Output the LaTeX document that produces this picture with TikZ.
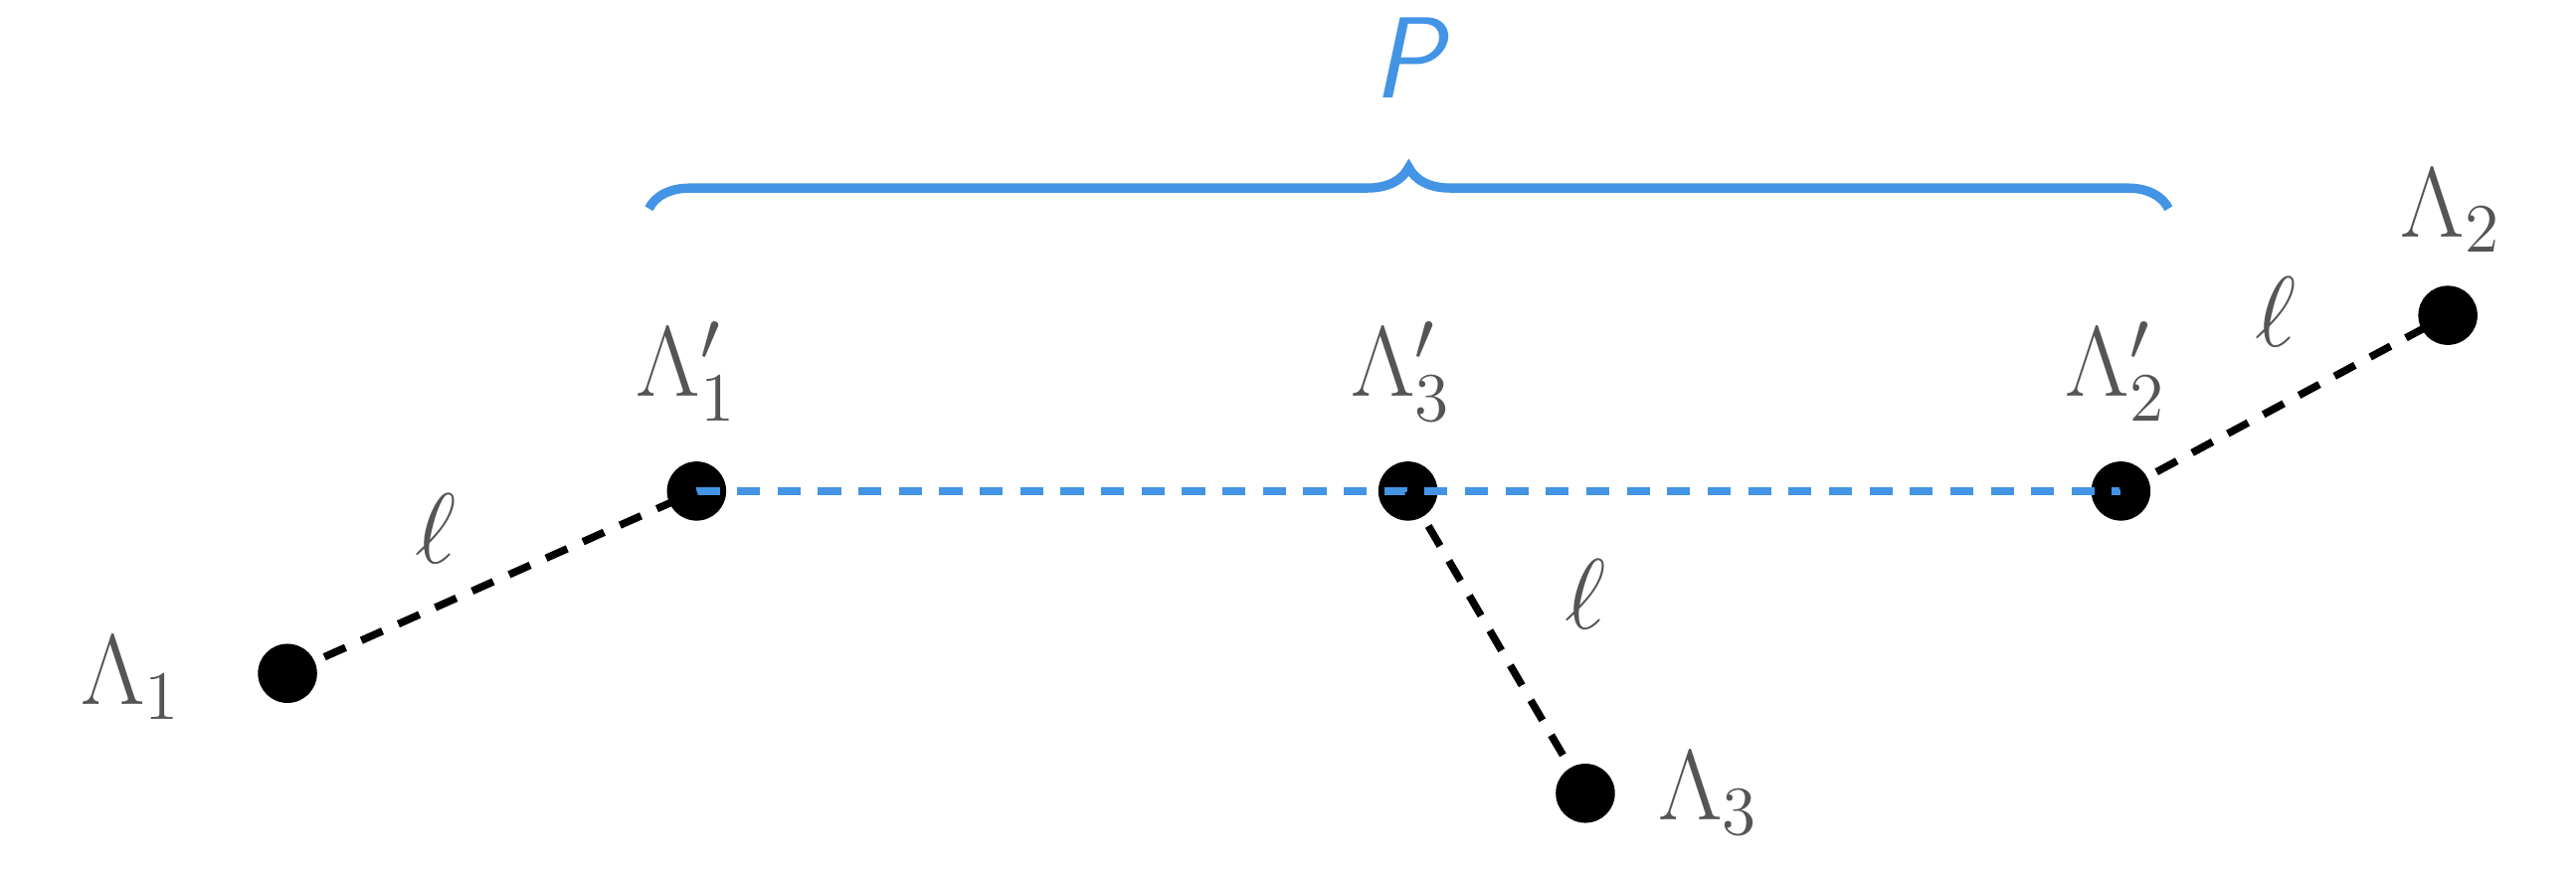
\documentclass[tikz,border=0pt]{standalone}
\usepackage{amsmath}
\usepackage{xcolor}
\usetikzlibrary{decorations.pathreplacing}
\definecolor{pblue}{HTML}{4394E5}
\definecolor{lgray}{HTML}{555555}
\begin{document}
\begin{tikzpicture}[x=0.01cm, y=-0.01cm,
		dot/.style={circle, fill=black, inner sep=0pt, minimum size=0.36cm},
		lab/.style={text=lgray, font=\fontsize{17}{20}\selectfont},
		link/.style={dashed, line width=1.3pt, dash pattern=on 4pt off 3pt}]
		\useasboundingbox (0,0) rectangle (1568,534);

		% Points
		\node[dot] (L1) at (175,410) {};
		\node[dot] (L1p) at (424,299) {};
		\node[dot] (L3p) at (857,299) {};
		\node[dot] (L2p) at (1291,299) {};
		\node[dot] (L2) at (1490,192) {};
		\node[dot] (L3) at (965,483) {};

		% Connectors
		\draw[link, pblue] (L1p.center) -- (L3p.center) -- (L2p.center);
		\draw[link] (L1.center) -- (L1p.center);
		\draw[link] (L3p.center) -- (L3.center);
		\draw[link] (L2p.center) -- (L2.center);

		% Labels
		\node[lab] (t1) at (80,413) {$\Lambda_1$};
		\node[lab] (t1p) at (418,226) {$\Lambda_1'$};
		\node[lab] (t3p) at (853,226) {$\Lambda_3'$};
		\node[lab] (t2p) at (1288,226) {$\Lambda_2'$};
		\node[lab] (t2) at (1492,128) {$\Lambda_2$};
		\node[lab] (t3) at (1040,483) {$\Lambda_3$};
		\node[lab] (e1) at (265,322) {$\ell$};
		\node[lab] (e3) at (965,362) {$\ell$};
		\node[lab] (e2) at (1385,190) {$\ell$};

		% Brace
		\coordinate (bl) at (395,127);
		\coordinate (br) at (1320,127);
		\draw[pblue, line width=1.6pt, decorate,
			decoration={brace, amplitude=0.25cm}] (bl) -- (br);
		\node[text=pblue, font=\fontsize{20}{24}\selectfont\sffamily\itshape] (P) at (857,35) {P};
	\end{tikzpicture}
\end{document}
